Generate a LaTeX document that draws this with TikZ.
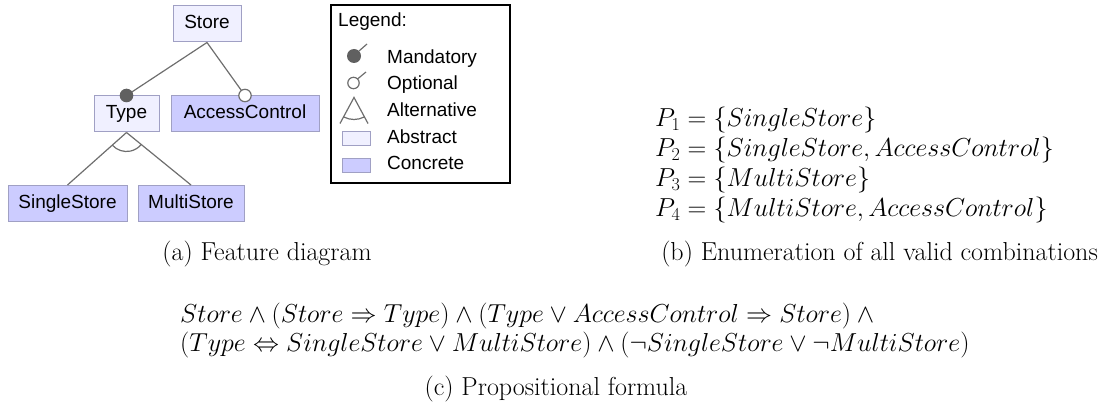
\RequirePackage{fix-cm}
\documentclass[tikz,border=0pt]{standalone}
\usepackage{amsmath,amssymb}
\usepackage{fontspec}
\newfontfamily\fsans{Liberation Sans}
\usetikzlibrary{calc}

\definecolor{featline}{RGB}{160,160,196}
\definecolor{absfill}{RGB}{240,240,255}
\definecolor{concfill}{RGB}{204,204,255}
\definecolor{linkgray}{RGB}{110,110,110}
\definecolor{mandfill}{RGB}{96,96,96}

\newcommand\featfont{\fsans\fontsize{19}{22}\selectfont}
\newcommand\bigtxt{\fontsize{26}{31}\selectfont}

\begin{document}
\begin{tikzpicture}[x=1pt,y=1pt,
  feat/.style={draw=featline, line width=1pt, font=\featfont, minimum height=36pt,
               inner sep=0pt, text height=14pt, text depth=4pt},
  abst/.style={feat, fill=absfill},
  conc/.style={feat, fill=concfill},
  link/.style={draw=linkgray, line width=1.2pt},
  mathtxt/.style={font=\bigtxt, inner sep=0pt},
  legtxt/.style={font=\featfont, inner sep=0pt, anchor=base west}
]
\useasboundingbox (0,0) rectangle (1103,-406);

% feature tree
\node[abst, minimum width=68pt]  (store)  at (207,-24)     {Store};
\node[abst, minimum width=65pt]  (type)   at (126.5,-114)  {Type};
\node[conc, minimum width=148pt] (access) at (245,-114)    {AccessControl};
\node[conc, minimum width=119pt] (single) at (67.5,-203.5) {SingleStore};
\node[conc, minimum width=106pt] (multi)  at (191,-203.5)  {MultiStore};

\draw[link] (store.south) -- (type.north);
\draw[link] (store.south) -- (access.north);
\draw[link] (type.south) -- (single.north);
\draw[link] (type.south) -- (multi.north);
% alternative group arc
\draw[link] let \p1=($(single.north)-(type.south)$), \p2=($(multi.north)-(type.south)$),
  \n1={atan2(\y1,\x1)}, \n2={atan2(\y2,\x2)} in
  ([shift={(\n1:19pt)}]type.south) arc[start angle=\n1, end angle=\n2, radius=19pt];
% mandatory / optional markers
\fill[mandfill] (type.north) circle[radius=6.8pt];
\draw[link, fill=white] (access.north) circle[radius=6.2pt];

% legend
\node[draw=black, line width=1.1pt, minimum width=179pt, minimum height=178pt, inner sep=0pt]
  (legend) at (420.5,-94) {};
\node[legtxt] (legtitle) at (338,-26.7)  {Legend:};
\node[legtxt] (lmand)    at (387,-63.3)  {Mandatory};
\node[legtxt] (lopt)     at (387,-90)    {Optional};
\node[legtxt] (lalt)     at (387,-116.7) {Alternative};
\node[legtxt] (labs)     at (387,-143.3) {Abstract};
\node[legtxt] (lconc)    at (387,-170)   {Concrete};

\fill[mandfill] (354,-56) circle[radius=7pt];
\draw[link] (354,-56) ++(45:7pt) -- (367,-44);
\draw[link] (353.5,-83) circle[radius=5.7pt];
\draw[link] (353.5,-83) ++(45:5.7pt) -- (366,-72);
\draw[link] (340,-123.5) -- (354,-97.5) -- (368,-123.5);
\draw[link] (354,-97.5) ++(-118.3:22pt) arc[start angle=-118.3, end angle=-61.7, radius=22pt];
\draw[draw=featline, line width=1pt, fill=absfill]  (342,-132) rectangle (370,-146);
\draw[draw=featline, line width=1pt, fill=concfill] (342,-158.5) rectangle (370,-172.5);

% captions and formulas
\node[mathtxt, anchor=base] (capa) at (267,-260) {(a) Feature diagram};

\node[mathtxt, anchor=base west] (p1) at (655,-127) {$P_1 = \{SingleStore\}$};
\node[mathtxt, anchor=base west] (p2) at (655,-157) {$P_2 = \{SingleStore, AccessControl\}$};
\node[mathtxt, anchor=base west] (p3) at (655,-187) {$P_3 = \{MultiStore\}$};
\node[mathtxt, anchor=base west] (p4) at (655,-217) {$P_4 = \{MultiStore, AccessControl\}$};
\node[mathtxt, anchor=base east] (capb) at (1098,-260) {(b) Enumeration of all valid combinations};

\node[mathtxt, anchor=base west] (f1) at (180,-322)
  {$Store \wedge (Store \Rightarrow Type) \wedge (Type \vee AccessControl \Rightarrow Store) \wedge {}$};
\node[mathtxt, anchor=base west] (f2) at (180,-351)
  {$(Type \Leftrightarrow SingleStore \vee MultiStore) \wedge (\neg SingleStore \vee \neg MultiStore)$};
\node[mathtxt, anchor=base] (capc) at (556,-395) {(c) Propositional formula};
\end{tikzpicture}
\end{document}
